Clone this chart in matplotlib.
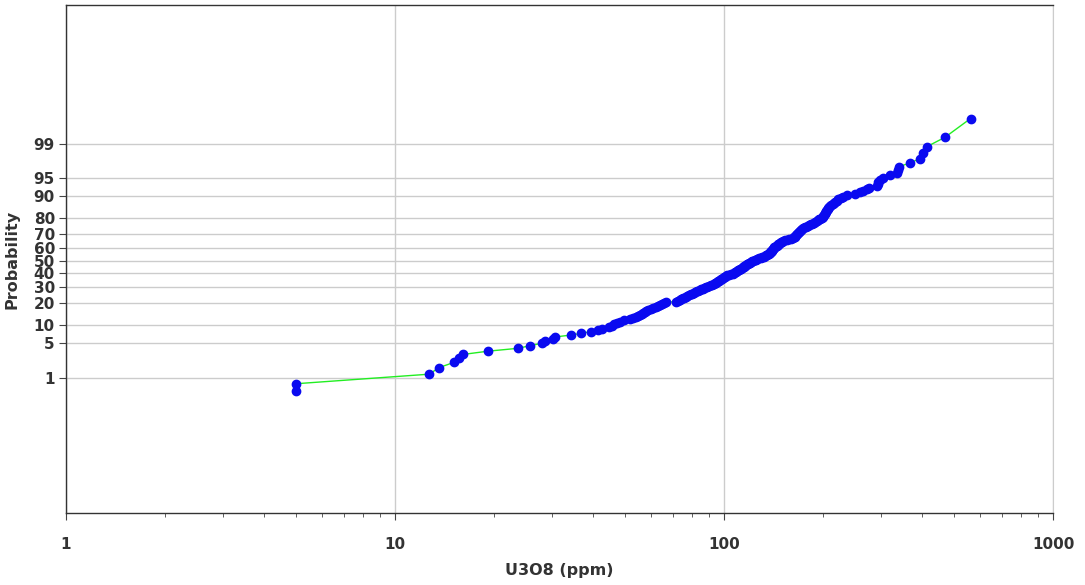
import matplotlib
matplotlib.use("Agg")
import matplotlib.pyplot as plt
import numpy as np
from statistics import NormalDist

# U3O8 assay values (ppm), sorted
u3o8 = [
    5.0, 5.0, 12.69, 13.63, 15.11, 15.65, 16.13, 19.17, 23.70, 25.72,
    27.98, 28.57, 30.28, 30.64, 34.20, 36.76, 39.34, 41.49, 42.49, 44.72,
    45.57, 46.31, 47.20, 48.30, 49.66, 51.80, 52.90, 53.83, 54.59, 55.36,
    56.14, 56.73, 57.33, 57.94, 58.75, 59.99, 61.05, 61.92, 63.01, 63.90,
    64.80, 65.72, 66.64, 71.46, 72.47, 73.49, 74.26, 75.04, 75.84, 76.63,
    77.44, 78.26, 79.37, 80.21, 81.06, 81.91, 82.78, 83.65, 84.53, 85.42,
    86.32, 87.24, 88.15, 89.08, 90.02, 91.30, 92.25, 93.25, 93.90, 94.56,
    95.22, 95.89, 96.56, 97.23, 97.91, 98.60, 99.30, 100.0, 100.70, 101.41,
    102.47, 103.55, 105.00, 106.14, 107.25, 108.00, 108.76, 109.53, 110.29, 111.07,
    111.85, 112.63, 113.42, 114.06, 114.70, 115.34, 115.99, 116.64, 117.46, 118.29,
    119.12, 119.95, 120.80, 121.64, 122.50, 123.80, 125.10, 126.42, 127.76, 129.11,
    130.47, 131.85, 132.78, 133.71, 134.65, 135.59, 136.55, 137.51, 137.99, 138.48,
    138.96, 139.45, 139.94, 140.43, 140.92, 141.42, 141.92, 142.91, 143.92, 144.73,
    145.55, 146.36, 147.19, 148.01, 149.06, 150.10, 151.16, 153.29, 155.45, 157.64,
    159.87, 162.12, 163.03, 163.83, 164.64, 165.56, 166.26, 167.07, 167.90, 168.72,
    169.55, 170.26, 171.09, 171.94, 172.91, 173.88, 175.71, 177.57, 179.57, 181.35,
    183.40, 185.47, 187.56, 189.68, 191.55, 193.17, 194.80, 196.45, 198.11, 199.50,
    200.48, 201.33, 202.18, 203.03, 204.03, 204.89, 205.90, 206.77, 207.79, 208.81,
    209.83, 211.60, 213.70, 215.81, 217.94, 220.09, 222.73, 226.21, 230.20, 236.0,
    250.1, 259.0, 265.1, 271.5, 275.9, 291.2, 292.8, 294.4, 299.0, 304.3,
    319.6, 334.9, 338.6, 341.0, 367.6, 394.2, 404.0, 412.6, 469.6, 561.5,
]
prob_ticks = [1, 5, 10, 20, 30, 40, 50, 60, 70, 80, 90, 95, 99]
x_ticks = [1, 10, 100, 1000]

nd = NormalDist()
n = len(u3o8)
# Hazen plotting positions (percent); the lowest tied value sits a bit higher
pct = [(i - 0.5) / n * 100 for i in range(1, n + 1)]
pct[0] = 0.47
z = [nd.inv_cdf(p / 100) for p in pct]

fig = plt.figure(figsize=(10.85, 5.85), dpi=100)
ax = fig.add_axes([66 / 1085, 72 / 585, (1053 - 66) / 1085, (513 - 5) / 585])

ax.plot(u3o8, z, color="#22ee22", lw=1.0, zorder=2)
ax.plot(u3o8, z, "o", color="#0a0af0", ms=6, mec="#0a0af0", zorder=3)

ax.set_xscale("log")
ax.set_xlim(1, 1000)
ax.set_ylim(-5.02, 5.08)

ax.set_yticks([nd.inv_cdf(p / 100) for p in prob_ticks])
ax.set_yticklabels([str(p) for p in prob_ticks])
ax.set_xticks(x_ticks)
ax.set_xticklabels([str(t) for t in x_ticks])

ax.grid(True, which="major", color="#cccccc", lw=1.0, zorder=0)
ax.set_axisbelow(True)

tc = "#333333"
ax.tick_params(axis="both", which="major", direction="out", length=5,
               width=0.8, colors="#444444", labelcolor=tc, labelsize=11, pad=3)
ax.tick_params(axis="x", which="minor", direction="out", length=3,
               width=0.6, colors="#444444")
ax.tick_params(axis="x", which="major", pad=12)
for lab in ax.get_xticklabels() + ax.get_yticklabels():
    lab.set_fontweight("bold")

for s in ["left", "bottom", "top"]:
    ax.spines[s].set_color("#333333")
    ax.spines[s].set_linewidth(1.0)
ax.spines["right"].set_color("#cccccc")

ax.set_xlabel("U3O8 (ppm)", fontsize=11.5, fontweight="bold", color=tc, labelpad=8)
ax.set_ylabel("Probability", fontsize=11.5, fontweight="bold", color=tc, labelpad=10)

fig.savefig("out.png", dpi=100)
